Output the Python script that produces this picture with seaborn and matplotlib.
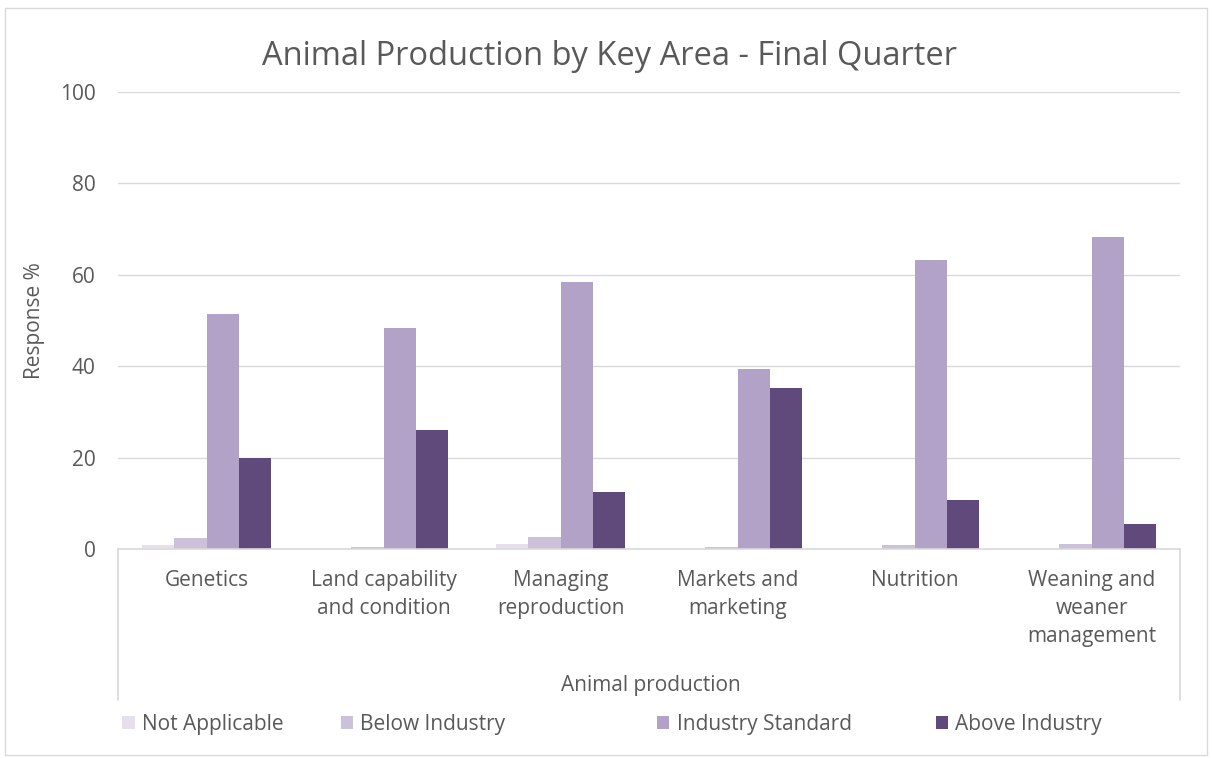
import pandas as pd
import matplotlib.pyplot as plt
import seaborn as sns

# Data
areas = ["Genetics", "Land capability\nand condition", "Managing\nreproduction",
         "Markets and\nmarketing", "Nutrition", "Weaning and\nweaner\nmanagement"]
levels = ["Not Applicable", "Below Industry", "Industry Standard", "Above Industry"]
not_applicable = [0.8, 0.0, 1.2, 0.0, 0.0, 0.0]
below_industry = [2.4, 0.4, 2.6, 0.4, 0.8, 1.0]
industry_standard = [51.5, 48.3, 58.4, 39.3, 63.2, 68.3]
above_industry = [20.0, 26.1, 12.5, 35.2, 10.8, 5.4]

colors = ["#E6E0EC", "#CCC1DA", "#B3A2C7", "#604A7B"]
legend_x = [0.101, 0.281, 0.542, 0.772]


def build_frame():
    rows = []
    for lvl, vals in zip(levels, [not_applicable, below_industry,
                                  industry_standard, above_industry]):
        for a, v in zip(areas, vals):
            rows.append({"Area": a, "Level": lvl, "Value": v})
    return pd.DataFrame(rows)


def make_chart(df):
    sns.set_style("white")
    plt.rcParams["font.family"] = ["Open Sans", "DejaVu Sans"]
    grey = "#595959"

    fig = plt.figure(figsize=(12.12, 7.58), dpi=100)
    ax = fig.add_axes([0.0974, 0.2757, 0.8762, 0.6029])

    sns.barplot(data=df, x="Area", y="Value", hue="Level", hue_order=levels,
                palette=colors, width=0.73, saturation=1, linewidth=0,
                ax=ax, legend=True)

    ax.set_ylim(0, 100)
    ax.set_yticks([0, 20, 40, 60, 80, 100])
    ax.yaxis.grid(True, color="#D9D9D9", linewidth=1)
    ax.set_axisbelow(True)
    for s in ["left", "right", "top"]:
        ax.spines[s].set_visible(False)
    ax.spines["bottom"].set_color("#D9D9D9")
    ax.spines["bottom"].set_linewidth(1.2)
    ax.tick_params(axis="both", length=0, colors=grey, labelsize=15)
    ax.tick_params(axis="y", pad=16)
    ax.tick_params(axis="x", pad=15)
    for t in ax.get_xticklabels():
        t.set_verticalalignment("top")
        t.set_linespacing(1.45)

    ax.set_ylabel("Response %", fontsize=15, color=grey, labelpad=11)
    ax.set_xlabel("")
    fig.text(0.5374, 0.095, "Animal production", ha="center", va="center",
             fontsize=15, color=grey)

    # category box lines
    for xf in [0.0974, 0.9736]:
        fig.add_artist(plt.Line2D([xf, xf], [0.2757, 0.077], color="#D9D9D9",
                                  linewidth=1.2))

    fig.suptitle("Animal Production by Key Area - Final Quarter", x=0.503,
                 y=0.925, va="center", fontsize=23.5, color=grey)

    handles, labels = ax.get_legend_handles_labels()
    ax.get_legend().remove()
    for h, l, x in zip(handles, labels, legend_x):
        fig.legend([h], [l], loc="center left", bbox_to_anchor=(x, 0.044),
                   frameon=False, fontsize=15, labelcolor=grey,
                   handlelength=0.6, handleheight=0.6, handletextpad=0.35,
                   borderpad=0, borderaxespad=0)

    # outer chart border
    fig.add_artist(plt.Rectangle((0.004, 0.004), 0.992, 0.985, fill=False,
                                 edgecolor="#D9D9D9", linewidth=1))

    fig.savefig("out.png", dpi=100)
    plt.close(fig)


if __name__ == "__main__":
    make_chart(build_frame())
